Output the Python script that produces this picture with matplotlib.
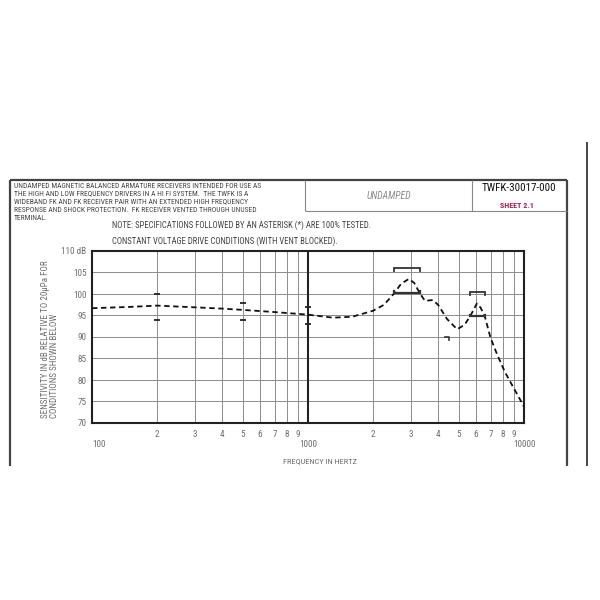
import matplotlib
matplotlib.use("Agg")
import matplotlib.pyplot as plt
from matplotlib.lines import Line2D
from matplotlib import font_manager as fm
from matplotlib.ticker import FixedLocator

# ---------------- data ----------------
freq_hz = [100, 150, 200, 300, 400, 500, 700, 1000, 1300, 1600, 2000, 2250,
           2500, 2700, 2930, 3100, 3300, 3480, 3780, 4000, 4400, 4900, 5300,
           5630, 6050, 6300, 6600, 7000, 7500, 8150, 8900, 10000]
level_db = [96.7, 97.0, 97.3, 96.9, 96.6, 96.3, 95.8, 95.2, 94.5, 94.7, 96.1, 97.5,
            100.1, 102.4, 103.5, 102.6, 100.1, 98.4, 98.6, 97.5, 94.2, 91.8, 92.8,
            94.8, 97.8, 96.8, 94.6, 89.8, 86.0, 81.9, 78.4, 73.8]

tol_freq = [200, 500, 1000]
tol_upper = [100, 98, 97]
tol_lower = [94, 94, 93]

band1_freq = [2500, 3300]
band1_upper = 106
band1_lower = 100.2
band2_freq = [5600, 6600]
band2_upper = 100.5
band2_lower = 94.8
low_mark_freq = [4300, 4500]
low_mark_level = 90

y_ticks = [70, 75, 80, 85, 90, 95, 100, 105, 110]
y_ticklabels = ["70", "75", "80", "85", "90", "95", "100", "105", "110 dB"]
minor_x = [200, 300, 400, 500, 600, 700, 800, 900,
           2000, 3000, 4000, 5000, 6000, 7000, 8000, 9000]
minor_x_labels = ["2", "3", "4", "5", "6", "7", "8", "9"] * 2
major_x = [100, 1000, 10000]
major_x_labels = ["100", "1000", "10000"]

header_lines = [
    "UNDAMPED MAGNETIC BALANCED ARMATURE RECEIVERS INTENDED FOR USE AS",
    "THE HIGH AND LOW FREQUENCY DRIVERS IN A HI FI SYSTEM.  THE TWFK IS A",
    "WIDEBAND FK AND FK RECEIVER PAIR WITH AN EXTENDED HIGH FREQUENCY",
    "RESPONSE AND SHOCK PROTECTION.  FK RECEIVER VENTED THROUGH UNUSED",
    "TERMINAL.",
]
note_text = "NOTE: SPECIFICATIONS FOLLOWED BY AN ASTERISK (*) ARE 100% TESTED."
cond_text = "CONSTANT VOLTAGE DRIVE CONDITIONS (WITH VENT BLOCKED)."
title_mid = "UNDAMPED"
part_no = "TWFK-30017-000"
sheet = "SHEET 2.1"
ylabel = "SENSITIVITY IN dB RELATIVE TO 20\u03bcPa FOR\nCONDITIONS SHOWN BELOW"
xlabel = "FREQUENCY IN HERTZ"

# ---------------- fonts ----------------
names = {f.name for f in fm.fontManager.ttflist}
cond_font = None
for cand in ["Liberation Sans Narrow", "Roboto Condensed", "Open Sans Condensed",
             "DejaVu Sans Condensed"]:
    if cand in names:
        cond_font = cand
        break
dejavu_cond = any(f.name == "DejaVu Sans" and "condensed" in str(f.stretch)
                  for f in fm.fontManager.ttflist)

if cond_font:
    FP = dict(family=cond_font)
elif dejavu_cond:
    FP = dict(family="DejaVu Sans", stretch="condensed")
else:
    FP = dict(family="DejaVu Sans")
condensed = bool(cond_font or dejavu_cond)
k = 1.0 if condensed else 0.88

TXT = "#444444"
LBL = "#6e6e6e"
W, H = 600, 600


def fx(px):
    return px / W


def fy(py):
    return 1 - py / H


fig = plt.figure(figsize=(6, 6), dpi=100)
fig.patch.set_facecolor("white")

# ---------------- frame lines ----------------
def fline(x0, y0, x1, y1, lw=1.2, color="#444444"):
    fig.add_artist(Line2D([fx(x0), fx(x1)], [fy(y0), fy(y1)], lw=lw,
                          color=color, transform=fig.transFigure,
                          solid_capstyle="butt"))

fline(10, 180, 567, 180, lw=1.6)
fline(10, 180, 10, 466, lw=1.6)
fline(567, 180, 567, 466, lw=1.6)
fline(587, 142, 587, 466, lw=1.4)
fline(305, 211, 567, 211, lw=0.8, color="#888888")
fline(305, 180, 305, 211, lw=0.8, color="#888888")
fline(472, 180, 472, 211, lw=0.8, color="#888888")

# ---------------- header text ----------------
fs_head = 5.4 * k
fs_note = 6.2 * k
for i, line in enumerate(header_lines):
    fig.text(fx(14), fy(186 + 8 * i), line, ha="left", va="center",
             fontsize=fs_head, color=TXT, **FP)
fig.text(fx(112), fy(225), note_text, ha="left", va="center",
         fontsize=fs_note, color=TXT, **FP)
fig.text(fx(112), fy(241), cond_text, ha="left", va="center",
         fontsize=fs_note, color=TXT, **FP)

fig.text(fx(389), fy(196), title_mid, ha="center", va="center",
         fontsize=7.0 * k, color="#8a8a8a", style="italic", **FP)
fig.text(fx(519), fy(188), part_no, ha="center", va="center",
         fontsize=7.9 * k, color="#111111", **FP)
fig.text(fx(517), fy(205), sheet, ha="center", va="center",
         fontsize=5.8 * k, color="#a3204a", fontweight="bold", **FP)

# ---------------- axes ----------------
ax = fig.add_axes([fx(92), fy(423), (524 - 92) / W, (423 - 251) / H])
ax.set_xscale("log")
ax.set_xlim(100, 10000)
ax.set_ylim(70, 110)

ax.xaxis.set_major_locator(FixedLocator(major_x))
ax.xaxis.set_minor_locator(FixedLocator(minor_x))
ax.set_xticklabels(major_x_labels)
ax.set_xticklabels(minor_x_labels, minor=True)
ax.set_yticks(y_ticks)
ax.set_yticklabels(y_ticklabels)

fs_tick = 6.6 * k
ax.tick_params(axis="x", which="major", length=0, pad=12, labelsize=fs_tick,
               labelcolor=LBL)
ax.tick_params(axis="x", which="minor", length=0, pad=5, labelsize=fs_tick,
               labelcolor=LBL)
ax.tick_params(axis="y", length=0, pad=4, labelsize=fs_tick, labelcolor=LBL)
for lab in ax.get_xticklabels() + ax.get_xticklabels(minor=True) + ax.get_yticklabels():
    lab.set_fontfamily(FP["family"])
    if "stretch" in FP:
        lab.set_fontstretch(FP["stretch"])
ax.get_xticklabels()[0].set_horizontalalignment("left")

ax.grid(True, which="both", axis="x", color="#8c8c8c", lw=0.7)
ax.grid(True, which="major", axis="y", color="#8c8c8c", lw=0.7)
ax.set_axisbelow(True)
ax.axvline(1000, color="#222222", lw=1.5, zorder=2)
for s in ax.spines.values():
    s.set_color("#222222")
    s.set_linewidth(1.5)

# response curve
ax.plot(freq_hz, level_db, color="#111111", lw=1.3, ls=(0, (3, 2)), zorder=4)

# tolerance markers
ax.plot(tol_freq, tol_upper, ls="none", marker="_", ms=5, mew=1.3,
        color="#222222", zorder=5)
ax.plot(tol_freq, tol_lower, ls="none", marker="_", ms=5, mew=1.3,
        color="#222222", zorder=5)


def bracket(f0, f1, y, tick, lw=1.3):
    ax.plot([f0, f0, f1, f1], [y + tick, y, y, y + tick], color="#333333",
            lw=lw, zorder=5, solid_joinstyle="miter")


bracket(band1_freq[0], band1_freq[1], band1_upper, -0.7)
bracket(band1_freq[0], band1_freq[1], band1_lower, 0.4, lw=1.6)
bracket(band2_freq[0], band2_freq[1], band2_upper, -0.7)
bracket(band2_freq[0], band2_freq[1], band2_lower, 0.4, lw=1.6)
ax.plot([low_mark_freq[0], low_mark_freq[1], low_mark_freq[1]],
        [low_mark_level, low_mark_level, low_mark_level - 0.8],
        color="#333333", lw=1.2, zorder=5)

# axis labels
fig.text(fx(320), fy(461), xlabel, ha="center", va="center",
         fontsize=6.0 * k, color=LBL, **FP)
fig.text(fx(50), fy(418), ylabel, ha="center", va="bottom", rotation=90,
         multialignment="left", fontsize=6.5 * k, color=LBL,
         linespacing=0.95, **FP)

fig.savefig("out.png", dpi=100, facecolor="white")
